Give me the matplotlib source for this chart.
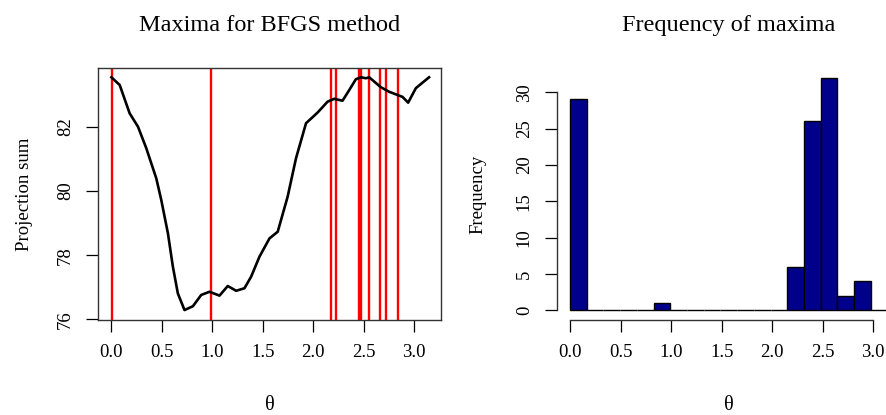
import numpy as np
import matplotlib
matplotlib.use("Agg")
import matplotlib.pyplot as plt

plt.rcParams['font.family'] = ['Liberation Serif', 'DejaVu Serif']

# ---- data ----
theta = [0.004, 0.086, 0.184, 0.267, 0.349, 0.448, 0.497, 0.563, 0.612, 0.661,
         0.727, 0.81, 0.892, 0.974, 1.073, 1.155, 1.238, 1.32, 1.386, 1.468,
         1.567, 1.649, 1.747, 1.83, 1.929, 2.043, 2.142, 2.208, 2.29, 2.356,
         2.422, 2.472, 2.521, 2.554, 2.669, 2.751, 2.833, 2.883, 2.939, 3.015,
         3.08, 3.146]
proj_sum = [83.54, 83.30, 82.42, 82.0, 81.33, 80.39, 79.72, 78.68, 77.64, 76.81,
            76.29, 76.41, 76.76, 76.86, 76.74, 77.04, 76.89, 76.97, 77.33, 77.95,
            78.52, 78.73, 79.82, 81.02, 82.11, 82.44, 82.78, 82.87, 82.81, 83.14,
            83.48, 83.54, 83.51, 83.54, 83.23, 83.09, 82.99, 82.93, 82.75, 83.20,
            83.37, 83.54]
maxima = [0.01, 0.987, 2.18, 2.23, 2.455, 2.47, 2.55, 2.66, 2.72, 2.84]

hist_breaks = np.linspace(0, np.pi, 20)
hist_counts = [29, 0, 0, 0, 0, 1, 0, 0, 0, 0, 0, 0, 0, 6, 26, 32, 2, 4, 0]

x_ticks = [0.0, 0.5, 1.0, 1.5, 2.0, 2.5, 3.0]
left_yticks = [76, 78, 80, 82]
right_yticks = [0, 5, 10, 15, 20, 25, 30]

W, H = 886, 415
fig = plt.figure(figsize=(W / 100, H / 100), dpi=100)

def px_axes(x0, x1, ytop, ybot):
    return fig.add_axes([x0 / W, 1 - ybot / H, (x1 - x0) / W, (ybot - ytop) / H])

tick_len = 12 * 0.72
fs_tick = 13.5
fs_title = 17.5

# ---- left plot ----
ax1 = px_axes(98.3, 441.3, 68.3, 319.7)
for m in maxima:
    ax1.axvline(m, color='#FF0000', lw=1.7, zorder=1)
ax1.plot(theta, proj_sum, color='black', lw=1.9, zorder=2, solid_joinstyle='round')
ax1.set_xlim(-0.1257, 3.267)
ax1.set_ylim(75.99, 83.82)
ax1.set_xticks(x_ticks)
ax1.set_xticklabels([f"{t:.1f}" for t in x_ticks])
ax1.set_yticks(left_yticks)
ax1.set_yticklabels([str(v) for v in left_yticks])
for s in ax1.spines.values():
    s.set_linewidth(1.0)
    s.set_color('#333333')
ax1.tick_params(direction='out', length=tick_len, width=0.9, labelsize=fs_tick, pad=9)
ax1.tick_params(axis='y', labelrotation=90, pad=9)
for lab in ax1.get_yticklabels():
    lab.set_va('center')
ax1.set_title("Maxima for BFGS method", fontsize=fs_title, pad=27)
ax1.set_xlabel("θ", fontsize=fs_tick + 1)
ax1.xaxis.set_label_coords(0.5, -0.34)
ax1.xaxis.label.set_va('center')
ax1.set_ylabel("Projection sum", fontsize=fs_tick)
ax1.yaxis.set_label_coords(-0.215, 0.5)
ax1.yaxis.label.set_va('center')

# ---- right plot ----
ax2 = px_axes(557.3, 900.3, 68.3, 319.7)
widths = np.diff(hist_breaks)
ax2.bar(hist_breaks[:-1], hist_counts, width=widths, align='edge',
        color='#00008B', edgecolor='black', linewidth=1.0)
ax2.set_xlim(-0.1257, 3.267)
ax2.set_ylim(-1.28, 33.28)
ax2.set_xticks(x_ticks)
ax2.set_xticklabels([f"{t:.1f}" for t in x_ticks])
ax2.set_yticks(right_yticks)
ax2.set_yticklabels([str(v) for v in right_yticks])
ax2.spines['top'].set_visible(False)
ax2.spines['right'].set_visible(False)
ax2.spines['left'].set_bounds(0, 30)
ax2.spines['bottom'].set_bounds(0, 3.0)
for s in ax2.spines.values():
    s.set_linewidth(1.0)
    s.set_color('#333333')
ax2.tick_params(direction='out', length=tick_len, width=0.9, labelsize=fs_tick, pad=9)
ax2.tick_params(axis='y', labelrotation=90, pad=9)
for lab in ax2.get_yticklabels():
    lab.set_va('center')
ax2.set_title("Frequency of maxima", fontsize=fs_title, pad=27, x=0.5)
ax2.set_xlabel("θ", fontsize=fs_tick + 1)
ax2.xaxis.set_label_coords(0.5, -0.34)
ax2.xaxis.label.set_va('center')
ax2.set_ylabel("Frequency", fontsize=fs_tick)
ax2.yaxis.set_label_coords(-0.231, 0.5)
ax2.yaxis.label.set_va('center')

fig.savefig("out.png", dpi=100)
